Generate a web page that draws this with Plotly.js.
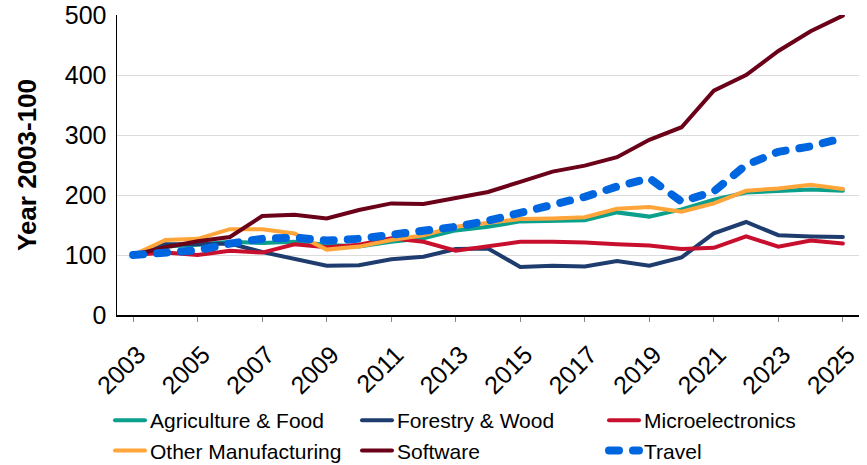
<!DOCTYPE html>
<html>
<head>
<meta charset="utf-8">
<script src="https://cdn.plot.ly/plotly-3.0.1.min.js"></script>
<style>
html,body{margin:0;padding:0;background:#fff;}
#chart{width:867px;height:465px;}
.js-line{stroke-linecap:round;}
</style>
</head>
<body>
<div id="chart"></div>
<script>
const years = [2003,2004,2005,2006,2007,2008,2009,2010,2011,2012,2013,2014,2015,2016,2017,2018,2019,2020,2021,2022,2023,2024,2025];
const agricultureFood = [100,114,117,122,120,122,117,114,122,128,141,147,156,157,158,171,164,176,192,204,207,209,207];
const forestryWood = [100,118,118,119,105,94,82,83,93,97,110,111,80,82,81,90,82,96,136,155,133,131,130];
const microelectronics = [100,104,100,107,104,118,113,117,128,122,107,115,122,122,121,118,116,110,112,131,114,124,119];
const otherManufacturing = [100,125,127,143,143,136,109,114,125,133,147,154,160,161,163,177,180,172,186,207,211,217,210];
const software = [100,113,123,130,165,167,161,175,186,185,195,205,222,239,249,263,292,313,374,400,440,473,499];
const travel = [100,104,108,119,127,129,124,127,133,142,147,157,170,185,197,214,228,189,206,250,272,281,295];
const seriesNames = ["Agriculture & Food","Forestry & Wood","Microelectronics","Other Manufacturing","Software","Travel"];
const yTickVals = [0,100,200,300,400,500];
const xTickVals = [2003,2005,2007,2009,2011,2013,2015,2017,2019,2021,2023,2025];

const font = "Liberation Sans, Arial, sans-serif";
const colors = ["#0aa08c","#1f3c6e","#c8102e","#ffa53a","#6b0019","#0066e0"];
const dataSets = [agricultureFood, forestryWood, microelectronics, otherManufacturing, software, travel];

const traces = dataSets.map((d,i) => ({
  x: years, y: d, name: seriesNames[i], type: "scatter", mode: "lines",
  line: i === 5 ? {color: colors[i], width: 8, dash: "10px,14px"} : {color: colors[i], width: 4},
  hoverinfo: "skip"
}));

const layout = {
  width: 867, height: 465,
  margin: {l: 117, r: 8, t: 15, b: 150},
  paper_bgcolor: "#fff", plot_bgcolor: "#fff",
  font: {family: font, color: "#000"},
  showlegend: true,
  legend: {
    orientation: "h", xref: "container", yref: "container",
    x: 110/867, xanchor: "left", y: 1 - 400/465, yanchor: "top",
    entrywidth: 202, entrywidthmode: "pixels",
    font: {family: font, size: 21, color: "#000"},
    traceorder: "normal", itemclick: false
  },
  xaxis: {
    type: "linear", range: [2002.5, 2025.5],
    tickmode: "array", tickvals: xTickVals, ticktext: xTickVals.map(String),
    tickangle: -45, tickfont: {family: font, size: 25, color: "#000"},
    ticks: "outside", ticklen: 5, tickcolor: "#888", tickwidth: 1,
    ticklabelstandoff: 8, ticklabelshift: 5,
    showgrid: false, zeroline: false,
    showline: true, linecolor: "#000", linewidth: 2
  },
  xaxis2: {
    type: "linear", range: [2002.5, 2025.5], overlaying: "x",
    tickmode: "array", tickvals: xTickVals,
    ticks: "inside", ticklen: 7, tickcolor: "#888", tickwidth: 1,
    showticklabels: false, showgrid: false, zeroline: false, showline: false
  },
  yaxis: {
    range: [0, 500], tickmode: "array", tickvals: yTickVals,
    tickfont: {family: font, size: 25, color: "#000"},
    ticks: "", showgrid: true, gridcolor: "#dcdcdc", gridwidth: 1,
    zeroline: false, showline: true, linecolor: "#000", linewidth: 1.5,
    ticklabelstandoff: 4,
    title: {text: "<b>Year 2003-100</b>", font: {family: font, size: 26, color: "#000"}, standoff: 20}
  }
};

Plotly.newPlot("chart", traces, layout, {displayModeBar: false, staticPlot: true});
</script>
</body>
</html>
